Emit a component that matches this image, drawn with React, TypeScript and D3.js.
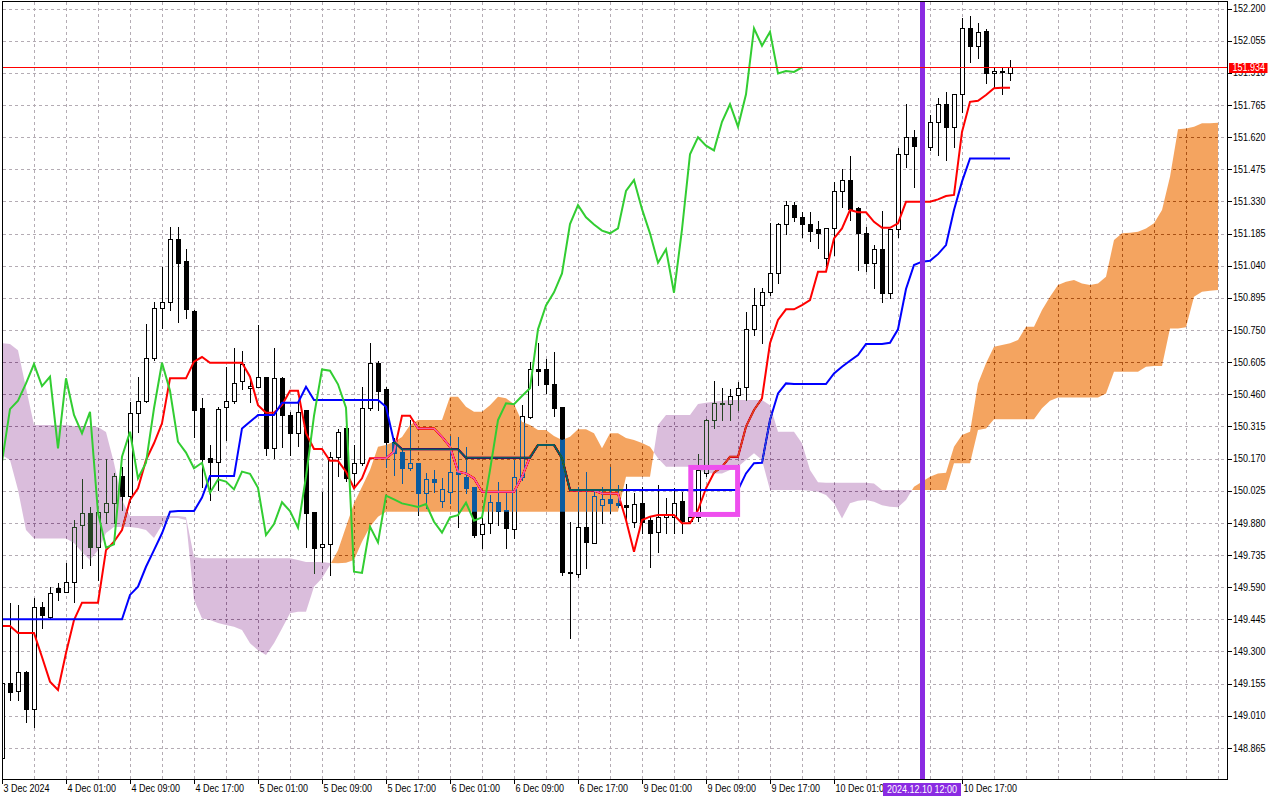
import React, { useEffect, useRef } from "react";
import * as d3 from "d3";

// hourly USDJPY-like bars, 3 Dec 17:00 .. 10 Dec 23:00
const opens = [
  148.818, 149.156, 149.123, 149.206, 149.039, 149.502, 149.457, 149.585, 149.567, 149.612,
  149.870, 149.923, 149.772, 149.930, 149.968, 150.093, 150.002, 150.374, 150.431, 150.622,
  150.850, 150.875, 151.159, 151.061, 150.834, 150.397, 150.171, 150.156, 150.401, 150.431,
  150.520, 150.487, 150.494, 150.536, 150.216, 150.532, 150.367, 150.284, 150.389, 149.928,
  149.772, 149.783, 150.178, 150.306, 150.106, 150.151, 150.397, 150.600, 150.484, 150.246,
  150.201, 150.126, 150.149, 150.016, 150.076, 149.978, 150.020, 150.111, 150.088, 150.043,
  149.828, 149.878, 149.973, 149.936, 149.854, 150.088, 150.359, 150.572, 150.572, 150.506,
  150.401, 149.660, 149.648, 149.863, 149.788, 149.960, 149.986, 149.971, 149.960, 149.885,
  149.971, 149.893, 149.837, 149.905, 149.908, 149.979, 149.890, 149.905, 150.106, 150.344,
  150.420, 150.416, 150.457, 150.491, 150.753, 150.861, 150.920, 151.008, 151.228, 151.313,
  151.258, 151.228, 151.205, 151.073, 151.208, 151.377, 151.426, 151.299, 151.186, 151.053,
  151.114, 150.918, 151.204, 151.542, 151.619, 151.581, 151.574, 151.689, 151.768, 151.664,
  151.813, 152.110, 152.032, 152.098, 151.907, 151.918, 151.910,
];
const highs = [
  149.160, 149.517, 149.510, 149.210, 149.540, 149.525, 149.592, 149.608, 149.698, 149.893,
  150.076, 149.953, 149.928, 150.167, 150.103, 150.133, 150.426, 150.539, 150.777, 150.875,
  151.035, 151.216, 151.216, 151.114, 150.840, 150.442, 150.231, 150.404, 150.584, 150.667,
  150.655, 150.539, 150.772, 150.536, 150.667, 150.539, 150.382, 150.426, 150.389, 149.928,
  150.020, 150.201, 150.302, 150.306, 150.231, 150.494, 150.690, 150.612, 150.494, 150.261,
  150.208, 150.344, 150.149, 150.104, 150.118, 150.081, 150.272, 150.269, 150.223, 150.043,
  149.926, 150.006, 150.066, 150.013, 150.163, 150.411, 150.607, 150.692, 150.618, 150.652,
  150.401, 149.882, 150.043, 150.111, 150.028, 150.043, 150.133, 150.051, 150.055, 150.013,
  150.043, 149.908, 150.051, 149.991, 150.036, 150.020, 149.938, 150.190, 150.347, 150.520,
  150.487, 150.482, 150.517, 150.832, 150.938, 150.938, 151.231, 151.234, 151.333, 151.328,
  151.283, 151.283, 151.243, 151.208, 151.419, 151.476, 151.536, 151.306, 151.216, 151.133,
  151.288, 151.204, 151.569, 151.769, 151.652, 151.620, 151.719, 151.795, 151.824, 151.813,
  152.155, 152.166, 152.133, 152.106, 151.937, 151.937, 151.967,
];
const lows = [
  148.810, 149.081, 149.081, 148.983, 148.961, 149.404, 149.450, 149.532, 149.567, 149.524,
  149.675, 149.690, 149.622, 149.878, 149.878, 149.938, 149.975, 150.291, 150.426, 150.614,
  150.757, 150.840, 150.787, 150.802, 150.268, 150.043, 149.983, 150.028, 150.254, 150.420,
  150.482, 150.426, 150.494, 150.186, 150.171, 150.223, 150.186, 150.226, 149.772, 149.652,
  149.705, 149.645, 150.091, 150.070, 150.036, 150.141, 150.389, 150.389, 150.133, 150.096,
  150.061, 150.118, 149.915, 149.946, 150.020, 149.953, 149.968, 149.863, 150.013, 149.817,
  149.765, 149.833, 149.871, 149.768, 149.810, 150.074, 150.352, 150.502, 150.467, 150.362,
  149.645, 149.359, 149.637, 149.675, 149.788, 149.878, 149.923, 149.953, 149.885, 149.863,
  149.833, 149.682, 149.750, 149.833, 149.833, 149.833, 149.878, 149.890, 150.090, 150.306,
  150.344, 150.344, 150.389, 150.434, 150.727, 150.690, 150.908, 150.960, 151.185, 151.240,
  151.168, 151.152, 151.118, 151.035, 151.088, 151.306, 151.246, 151.020, 151.017, 150.938,
  150.877, 150.893, 151.168, 151.486, 151.396, 151.480, 151.562, 151.539, 151.516, 151.574,
  151.734, 151.960, 151.975, 151.865, 151.840, 151.814, 151.877,
];
const closes = [
  149.156, 149.119, 149.206, 149.039, 149.502, 149.464, 149.562, 149.567, 149.612, 149.863,
  149.923, 149.772, 149.928, 149.968, 150.093, 150.002, 150.374, 150.431, 150.622, 150.850,
  150.875, 151.159, 151.053, 150.843, 150.389, 150.168, 150.156, 150.393, 150.431, 150.509,
  150.596, 150.497, 150.539, 150.216, 150.532, 150.367, 150.284, 150.381, 149.926, 149.768,
  149.783, 150.178, 150.291, 150.081, 150.151, 150.397, 150.602, 150.476, 150.246, 150.197,
  150.126, 150.151, 150.016, 150.076, 150.066, 150.031, 150.111, 150.101, 150.038, 149.825,
  149.875, 149.973, 149.933, 149.858, 150.088, 150.363, 150.572, 150.566, 150.505, 150.399,
  149.660, 149.654, 149.863, 149.792, 150.003, 149.986, 149.968, 149.960, 149.952, 149.965,
  149.885, 149.836, 149.905, 149.915, 149.971, 149.890, 149.905, 150.118, 150.344, 150.419,
  150.415, 150.452, 150.487, 150.753, 150.861, 150.920, 151.005, 151.228, 151.313, 151.258,
  151.226, 151.198, 151.186, 151.208, 151.377, 151.426, 151.295, 151.186, 151.053, 151.114,
  150.918, 151.204, 151.542, 151.619, 151.581, 151.560, 151.689, 151.768, 151.667, 151.813,
  152.110, 152.032, 152.095, 151.907, 151.918, 151.914, 151.934,
];

// Tenkan-sen (red) and Kijun-sen (blue), one value per bar
const tenkan = [
  149.415, 149.415, 149.383, 149.383, 149.383, 149.275, 149.164, 149.126, 149.293, 149.442,
  149.520, 149.520, 149.520, 149.757, 149.795, 149.848, 149.983, 150.036, 150.163, 150.239,
  150.329, 150.532, 150.532, 150.532, 150.607, 150.628, 150.602, 150.602, 150.602, 150.602,
  150.602, 150.539, 150.411, 150.377, 150.377, 150.411, 150.476, 150.476, 150.284, 150.213,
  150.213, 150.160, 150.160, 150.111, 150.036, 150.081, 150.171, 150.171, 150.171, 150.201,
  150.363, 150.363, 150.306, 150.306, 150.306, 150.268, 150.223, 150.111, 150.103, 150.081,
  150.020, 150.020, 150.020, 150.020, 150.020, 150.088, 150.178, 150.231, 150.231, 150.231,
  150.172, 150.026, 150.026, 150.026, 150.026, 150.013, 150.013, 150.013, 149.893, 149.750,
  149.893, 149.908, 149.915, 149.915, 149.915, 149.878, 149.878, 149.938, 150.036, 150.106,
  150.133, 150.178, 150.178, 150.314, 150.389, 150.442, 150.690, 150.795, 150.843, 150.843,
  150.862, 150.885, 151.013, 151.013, 151.163, 151.208, 151.291, 151.281, 151.281, 151.238,
  151.211, 151.211, 151.231, 151.328, 151.328, 151.328, 151.328, 151.339, 151.354, 151.359,
  151.643, 151.779, 151.784, 151.810, 151.840, 151.842, 151.842,
];
const kijun = [
  149.445, 149.445, 149.445, 149.445, 149.445, 149.445, 149.445, 149.445, 149.445, 149.445,
  149.445, 149.445, 149.445, 149.445, 149.445, 149.445, 149.555, 149.592, 149.682, 149.757,
  149.833, 149.930, 149.933, 149.933, 149.933, 149.994, 150.091, 150.091, 150.091, 150.091,
  150.306, 150.336, 150.366, 150.366, 150.366, 150.422, 150.422, 150.422, 150.494, 150.434,
  150.434, 150.434, 150.434, 150.434, 150.434, 150.434, 150.434, 150.434, 150.404, 150.246,
  150.212, 150.212, 150.212, 150.212, 150.212, 150.212, 150.212, 150.212, 150.174, 150.174,
  150.174, 150.174, 150.174, 150.174, 150.174, 150.174, 150.174, 150.231, 150.231, 150.231,
  150.172, 150.028, 150.028, 150.028, 150.028, 150.028, 150.028, 150.028, 150.028, 150.028,
  150.028, 150.028, 150.028, 150.028, 150.028, 150.028, 150.028, 150.028, 150.028, 150.028,
  150.028, 150.028, 150.028, 150.103, 150.149, 150.151, 150.344, 150.464, 150.509, 150.506,
  150.506, 150.506, 150.506, 150.506, 150.554, 150.584, 150.611, 150.637, 150.687, 150.687,
  150.687, 150.692, 150.753, 150.935, 151.043, 151.058, 151.062, 151.092, 151.133, 151.291,
  151.419, 151.524, 151.524, 151.524, 151.524, 151.524, 151.524,
];

// Senkou Span A / B, already shifted 26 bars forward (bars 0..152)
const spanA = [
  150.186, 150.163, 150.028, 149.848, 149.810, 149.810, 149.810, 149.810, 149.810, 149.789,
  149.748, 149.712, 149.757, 149.834, 149.861, 149.861, 149.861, 149.857, 149.848, 149.812,
  149.870, 149.902, 149.902, 149.893, 149.532, 149.449, 149.442, 149.428, 149.419, 149.412,
  149.397, 149.337, 149.306, 149.284, 149.337, 149.404, 149.472, 149.479, 149.479, 149.592,
  149.630, 149.690, 149.757, 149.863, 149.968, 150.043, 150.118, 150.223, 150.231, 150.246,
  150.267, 150.321, 150.344, 150.344, 150.344, 150.344, 150.449, 150.449, 150.404, 150.381,
  150.381, 150.411, 150.449, 150.442, 150.416, 150.336, 150.321, 150.299, 150.299, 150.272,
  150.254, 150.268, 150.302, 150.302, 150.284, 150.216, 150.284, 150.284, 150.263, 150.254,
  150.240, 150.223, 150.171, 150.133, 150.133, 150.133, 150.133, 150.118, 150.106, 150.103,
  150.103, 150.118, 150.133, 150.163, 150.194, 150.163, 150.028, 150.028, 150.028, 150.028,
  150.028, 150.025, 150.020, 150.006, 149.968, 149.900, 149.968, 149.980, 149.983, 149.975,
  149.960, 149.953, 149.950, 149.983, 150.043, 150.066, 150.088, 150.103, 150.106, 150.223,
  150.276, 150.291, 150.509, 150.600, 150.674, 150.682, 150.690, 150.705, 150.765, 150.765,
  150.840, 150.900, 150.953, 150.968, 150.975, 150.960, 150.953, 150.960, 150.990, 151.156,
  151.186, 151.189, 151.193, 151.208, 151.231, 151.291, 151.441, 151.655, 151.659, 151.667,
  151.682, 151.682, 151.685,
];
const spanB = [
  150.690, 150.687, 150.659, 150.488, 150.321, 150.321, 150.321, 150.321, 150.321, 150.317,
  150.317, 150.317, 150.312, 150.290, 150.150, 149.983, 149.911, 149.911, 149.911, 149.911,
  149.911, 149.911, 149.911, 149.906, 149.726, 149.720, 149.720, 149.720, 149.720, 149.720,
  149.720, 149.720, 149.720, 149.720, 149.720, 149.720, 149.720, 149.712, 149.703, 149.703,
  149.703, 149.699, 149.698, 149.700, 149.712, 149.795, 149.863, 149.908, 149.930, 149.930,
  149.930, 149.930, 149.930, 149.930, 149.930, 149.930, 149.930, 149.930, 149.930, 149.930,
  149.930, 149.930, 149.930, 149.930, 149.930, 149.930, 149.930, 149.930, 149.930, 149.930,
  149.930, 149.930, 149.930, 149.930, 149.930, 149.930, 149.930, 149.930, 150.088, 150.088,
  150.088, 150.088, 150.321, 150.366, 150.366, 150.366, 150.366, 150.416, 150.422, 150.426,
  150.431, 150.434, 150.434, 150.434, 150.434, 150.434, 150.411, 150.291, 150.291, 150.291,
  150.239, 150.118, 150.063, 150.061, 150.061, 150.061, 150.061, 150.061, 150.061, 150.058,
  150.028, 150.028, 150.028, 150.028, 150.028, 150.028, 150.028, 150.028, 150.028, 150.149,
  150.149, 150.149, 150.299, 150.306, 150.347, 150.347, 150.347, 150.347, 150.347, 150.347,
  150.397, 150.431, 150.446, 150.446, 150.446, 150.446, 150.446, 150.446, 150.464, 150.562,
  150.562, 150.562, 150.562, 150.584, 150.587, 150.587, 150.757, 150.757, 150.762, 150.900,
  150.922, 150.927, 150.930,
];

const priceTicks = [
  152.2, 152.055, 151.91, 151.765, 151.62, 151.475, 151.33, 151.185, 151.04, 150.895,
  150.75, 150.605, 150.46, 150.315, 150.17, 150.025, 149.88, 149.735, 149.59, 149.445,
  149.3, 149.155, 149.01, 148.865,
];
const timeBars = [0, 8, 16, 24, 32, 40, 48, 56, 64, 72, 80, 88, 96, 104, 120];
const timeLabels = [
  "3 Dec 2024", "4 Dec 01:00", "4 Dec 09:00", "4 Dec 17:00", "5 Dec 01:00", "5 Dec 09:00",
  "5 Dec 17:00", "6 Dec 01:00", "6 Dec 09:00", "6 Dec 17:00", "9 Dec 01:00", "9 Dec 09:00",
  "9 Dec 17:00", "10 Dec 01:00", "10 Dec 17:00",
];
const lastPrice = 151.934;
const markerBar = 115;
const markerLabel = "2024.12.10 12:00";
const boxBars = [86.1, 91.95];
const boxPrices = [150.130, 149.918];
const CHIKOU_SHIFT = 26;

const FONT = "'Liberation Sans', Arial, sans-serif";

const App: React.FC = () => {
  const svgRef = useRef<SVGSVGElement | null>(null);

  useEffect(() => {
    if (!svgRef.current) return;
    const svg = d3.select(svgRef.current);
    svg.selectAll("*").remove();

    const x = d3.scaleLinear().domain([0, 152]).range([2, 1218]);
    const y = d3.scaleLinear().domain([148.865, 152.2]).range([747.9, 8.5]);

    svg.append("rect").attr("width", 1280).attr("height", 800).attr("fill", "#fff");

    svg.append("defs").append("clipPath").attr("id", "plotClip")
      .append("rect").attr("x", 3).attr("y", 2).attr("width", 1224).attr("height", 777);

    const plot = svg.append("g").attr("clip-path", "url(#plotClip)");
    plot.append("rect").attr("x", 0).attr("y", 0).attr("width", 1280).attr("height", 800).attr("fill", "#fff");

    // grid
    const grid = plot.append("g").attr("stroke", "#b4acb4").attr("stroke-dasharray", "3 3").attr("stroke-width", 1);
    priceTicks.forEach((p) => {
      const yy = Math.round(y(p)) + 0.5;
      grid.append("line").attr("x1", 3).attr("x2", 1227).attr("y1", yy).attr("y2", yy);
    });
    d3.range(4, 153, 4).forEach((b) => {
      const xx = Math.round(x(b)) + 0.5;
      grid.append("line").attr("x1", xx).attr("x2", xx).attr("y1", 2).attr("y2", 779);
    });

    // candles
    const candles = plot.append("g");
    opens.forEach((o, i) => {
      const c = closes[i];
      const cx = Math.round(x(i));
      candles.append("line")
        .attr("x1", cx + 0.5).attr("x2", cx + 0.5)
        .attr("y1", Math.round(y(highs[i]))).attr("y2", Math.round(y(lows[i])) + 1)
        .attr("stroke", "#000").attr("stroke-width", 1);
      const yt = Math.round(y(Math.max(o, c)));
      const yb = Math.round(y(Math.min(o, c)));
      candles.append("rect")
        .attr("x", cx - 1.5).attr("y", yt + 0.5)
        .attr("width", 4).attr("height", Math.max(yb - yt, 1))
        .attr("fill", c >= o ? "#fff" : "#000")
        .attr("stroke", "#000").attr("stroke-width", 1);
    });

    const line = d3.line<number>().x((_, i) => x(i)).y((d) => y(d));

    plot.append("path").attr("d", line(tenkan) || "")
      .attr("fill", "none").attr("stroke", "#ff0000").attr("stroke-width", 2);
    plot.append("path").attr("d", line(kijun) || "")
      .attr("fill", "none").attr("stroke", "#0000ff").attr("stroke-width", 2);

    // cloud: filled with "difference" so it tints what lies under it
    const orangeParts: string[] = [];
    const thistleParts: string[] = [];
    const poly = (pts: [number, number][]) =>
      "M" + pts.map((p) => p[0].toFixed(2) + "," + p[1].toFixed(2)).join("L") + "Z";
    for (let i = 0; i < spanA.length - 1; i++) {
      const a0 = spanA[i], b0 = spanB[i], a1 = spanA[i + 1], b1 = spanB[i + 1];
      const x0 = x(i), x1 = x(i + 1);
      const d0 = a0 - b0, d1 = a1 - b1;
      if (d0 * d1 >= 0) {
        const up = d0 + d1 >= 0;
        (up ? orangeParts : thistleParts).push(
          poly([[x0, y(a0)], [x1, y(a1)], [x1, y(b1)], [x0, y(b0)]])
        );
      } else {
        const t = d0 / (d0 - d1);
        const xc = x0 + t * (x1 - x0);
        const yc = y(a0 + t * (a1 - a0));
        (d0 > 0 ? orangeParts : thistleParts).push(poly([[x0, y(a0)], [xc, yc], [x0, y(b0)]]));
        (d1 > 0 ? orangeParts : thistleParts).push(poly([[xc, yc], [x1, y(a1)], [x1, y(b1)]]));
      }
    }
    // white - fill = SandyBrown / Thistle
    const cloud = plot.append("g").style("isolation", "auto");
    cloud.append("path").attr("d", orangeParts.join(""))
      .attr("fill", "rgb(11,91,159)").style("mix-blend-mode", "difference");
    cloud.append("path").attr("d", thistleParts.join(""))
      .attr("fill", "rgb(37,66,35)").style("mix-blend-mode", "difference");

    // chikou: closes drawn 26 bars back
    const chikou = closes.slice(CHIKOU_SHIFT);
    plot.append("path").attr("d", line(chikou) || "")
      .attr("fill", "none").attr("stroke", "#32cd32").attr("stroke-width", 2);

    // vertical marker
    plot.append("line")
      .attr("x1", x(markerBar) + 0.5).attr("x2", x(markerBar) + 0.5)
      .attr("y1", 0).attr("y2", 780)
      .attr("stroke", "#8a2be2").attr("stroke-width", 5);

    // magenta box
    plot.append("rect")
      .attr("x", x(boxBars[0])).attr("y", y(boxPrices[0]))
      .attr("width", x(boxBars[1]) - x(boxBars[0]))
      .attr("height", y(boxPrices[1]) - y(boxPrices[0]))
      .attr("fill", "none").attr("stroke", "#ee4fee").attr("stroke-width", 5);

    // last price line, on top of everything in the plot
    const py = Math.round(y(lastPrice));
    svg.append("rect").attr("x", 3).attr("y", py).attr("width", 1224).attr("height", 1)
      .attr("fill", "#ff0000").attr("shape-rendering", "crispEdges");

    // frame
    svg.append("rect").attr("x", 2.5).attr("y", 1.5).attr("width", 1225).attr("height", 778)
      .attr("fill", "none").attr("stroke", "#000").attr("stroke-width", 1);

    // price axis
    const axisY = svg.append("g");
    priceTicks.forEach((p) => {
      const yy = Math.round(y(p)) + 0.5;
      axisY.append("line").attr("x1", 1228).attr("x2", 1232).attr("y1", yy).attr("y2", yy)
        .attr("stroke", "#000");
      axisY.append("text")
        .attr("transform", `translate(1233,${(y(p) + 3.6).toFixed(1)}) scale(0.9,1)`)
        .attr("font-family", FONT).attr("font-size", 10).attr("fill", "#000")
        .text(p.toFixed(3));
    });
    axisY.append("rect").attr("x", 1229).attr("y", py - 4).attr("width", 38.5).attr("height", 10)
      .attr("fill", "#ff0000");
    axisY.append("text")
      .attr("transform", `translate(1232.5,${(py + 4).toFixed(1)}) scale(0.9,1)`)
      .attr("font-family", FONT).attr("font-size", 10).attr("fill", "#fff")
      .text(lastPrice.toFixed(3));

    // time axis
    const axisX = svg.append("g");
    timeBars.forEach((b, k) => {
      const xx = Math.round(x(b)) + 0.5;
      axisX.append("line").attr("x1", xx).attr("x2", xx).attr("y1", 779).attr("y2", 784)
        .attr("stroke", "#000");
      axisX.append("text")
        .attr("transform", `translate(${xx + 1},792) scale(0.9,1)`)
        .attr("font-family", FONT).attr("font-size", 10).attr("fill", "#000")
        .text(timeLabels[k]);
    });
    const mx = x(markerBar);
    axisX.append("rect").attr("x", mx - 39).attr("y", 783).attr("width", 78).attr("height", 13)
      .attr("fill", "#8a2be2");
    axisX.append("text")
      .attr("transform", `translate(${mx},793) scale(0.9,1)`)
      .attr("text-anchor", "middle")
      .attr("font-family", FONT).attr("font-size", 10).attr("fill", "#fff")
      .text(markerLabel);
  }, []);

  return (
    <div style={{ position: "absolute", left: 0, top: 0, width: 1280, height: 800, background: "#fff" }}>
      <svg ref={svgRef} width={1280} height={800} style={{ display: "block" }}></svg>
    </div>
  );
};

export default App;
